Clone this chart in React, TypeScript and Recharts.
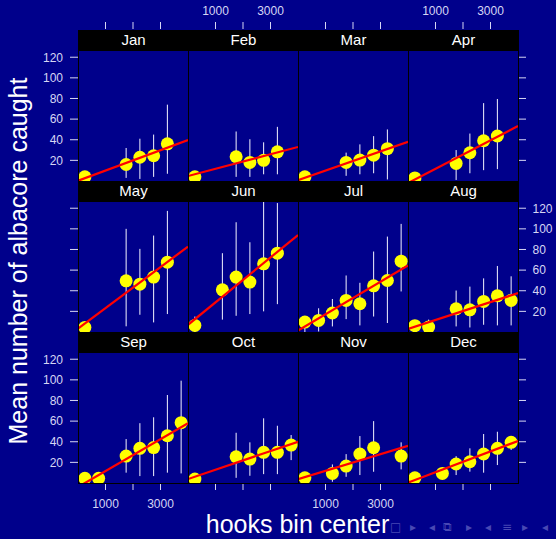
import React from 'react';
import { ComposedChart, ErrorBar, Scatter, XAxis, YAxis } from 'recharts';

// hook bin centres shared by every month
const bins = [250, 750, 1250, 1750, 2250, 2750, 3250, 3750];
const months = ['Jan', 'Feb', 'Mar', 'Apr', 'May', 'Jun', 'Jul', 'Aug', 'Sep', 'Oct', 'Nov', 'Dec'];

// mean catch per bin, and the low / high end of each bar (null = nothing drawn)
const meanJan = [4, null, null, 16, 23, 24.5, 36, null];
const loJan = [null, null, null, 3, 2, 4, 7, null];
const hiJan = [null, null, null, 32, 41, 45, 74, null];

const meanFeb = [4, null, null, 23.5, 18, 20, 28.3, null];
const loFeb = [null, null, null, 4, 4, 6.5, 6.5, null];
const hiFeb = [null, null, null, 48, 40.5, 37.5, 52.5, null];

const meanMar = [4, null, null, 18, 20.3, 25, 31.3, null];
const loMar = [null, null, null, 5, 6.5, 7.5, 1.5, null];
const hiMar = [null, null, null, 27.5, 35.5, 43.5, 50, null];

const meanApr = [3, null, null, 17, 27.4, 39, 43.6, null];
const loApr = [null, null, null, 1, 7.5, 10.5, 11.5, null];
const hiApr = [null, null, null, 30, 46, 75.5, 79.5, null];

const meanMay = [4.4, null, null, 49.6, 46.4, 53.2, 67.7, null];
const loMay = [null, null, null, 5.5, 16.7, 9.3, 17.4, null];
const hiMay = [null, null, null, 100, 80.6, 93.5, 117.4, null];

const meanJun = [6.4, null, 40.9, 53.2, 48.4, 66.1, 76.4, null];
const loJun = [0, null, 12, 15.7, 17.4, 20, 27, null];
const hiJun = [15, null, 76.4, 106.4, 87, 130, 125, null];

const meanJul = [9.6, 11.2, 18.4, 30.6, 27.4, 44.8, 49.9, 68.7];
const loJul = [0, 0.5, 5.4, 12.5, 6.4, 15, 8.7, 39.3];
const hiJul = [15, 23, 32, 54.8, 47.7, 78, 92.5, 104.8];

const meanAug = [6.1, 4.8, null, 22.5, 21.5, 29.6, 35.1, 30.6];
const loAug = [null, 0, null, 5.4, 4.4, 7, 6.4, 6.4];
const hiAug = [null, 12, null, 40.2, 44, 52, 64, 54];

const meanSep = [4.5, 4.5, null, 26.1, 33.6, 34.3, 45.8, 58.5];
const loSep = [null, null, null, 10, 6.7, 6.7, 10, 9.3];
const hiSep = [null, null, null, 42.6, 58, 63.7, 85.3, 99.2];

const meanOct = [3.8, null, null, 25.4, 23.2, 29.7, 29.7, 36.8];
const loOct = [null, null, null, 5, 7, 8.6, 8.6, 22.2];
const hiOct = [null, null, null, 48.7, 39.4, 62.7, 55.5, 46.5];

const meanNov = [5, null, 9.3, 16.4, 28.1, 34.2, null, 26.1];
const loNov = [null, null, 1.2, 6, 7.7, 10.9, null, 13.2];
const hiNov = [null, null, 18, 28, 45.5, 60, null, 39.4];

const meanDec = [5, null, 9.3, 18.4, 20.6, 28.1, 33.6, 39.4];
const loDec = [null, null, null, 7.7, 11, 10, 17.4, 32];
const hiDec = [null, null, null, 26, 33.6, 47.5, 49.7, 45.5];

// fitted line, value at the left (0) and right (4000) edge of each panel
const lineX = [0, 4000];
const lineLeft = [0.2, 4.8, 0.8, -2, 3.2, 7, 1.5, 2.9, -3.9, 3.8, 3.8, 0.4];
const lineRight = [39.7, 33, 38, 53.3, 82.8, 94, 64.5, 37.7, 57.9, 40, 36, 40.7];

const xTicks = [1000, 2000, 3000];
const yTicks = [20, 40, 60, 80, 100, 120];

const means = [meanJan, meanFeb, meanMar, meanApr, meanMay, meanJun, meanJul, meanAug, meanSep, meanOct, meanNov, meanDec];
const lows = [loJan, loFeb, loMar, loApr, loMay, loJun, loJul, loAug, loSep, loOct, loNov, loDec];
const highs = [hiJan, hiFeb, hiMar, hiApr, hiMay, hiJun, hiJul, hiAug, hiSep, hiOct, hiNov, hiDec];

const BG = '#00008b';
const TICK = '#d6d6f4';
const FONT = '"Liberation Sans", Arial, Helvetica, sans-serif';

const colLeft = [78, 188, 298, 408];
const rowTop = [50, 201, 352];
const PW = 110;
const PH = 131;
const STRIP = 20;

function Dot(props: any) {
  if (props.cx == null || props.cy == null) return <g />;
  return <circle cx={props.cx} cy={props.cy} r={6.5} fill="#ffff00" />;
}

function Panel({ idx }: { idx: number }) {
  const row = Math.floor(idx / 4);
  const col = idx % 4;

  const data = bins
    .map((x, k) => {
      const m = means[idx][k];
      if (m == null) return null;
      const lo = lows[idx][k];
      const hi = highs[idx][k];
      return { x, y: m, err: lo == null || hi == null ? [0, 0] : [m - lo, hi - m] };
    })
    .filter(Boolean) as { x: number; y: number; err: number[] }[];
  const fit = lineX.map((x, k) => ({ x, y: k === 0 ? lineLeft[idx] : lineRight[idx] }));

  const showLeft = col === 0;
  const showRight = col === 3;
  const padL = showLeft ? 50 : 0;
  const padR = showRight ? 40 : 0;
  const padT = row === 0 ? 50 : 0;
  const padB = row === 2 ? 30 : 0;
  const xLabels = row === 0 ? col % 2 === 1 : col % 2 === 0;
  const yLabels = row === 1 ? showRight : showLeft;

  const xTick = (p: any) => {
    const v = p.payload.value;
    const label = xLabels && v !== 2000;
    if (row === 0) {
      return (
        <g>
          <line x1={p.x} x2={p.x} y1={p.y - 28} y2={p.y - 21} stroke={TICK} />
          {label && <text x={p.x} y={p.y - 35} textAnchor="middle" fill={TICK} fontSize={12} fontFamily={FONT}>{v}</text>}
        </g>
      );
    }
    return (
      <g>
        <line x1={p.x} x2={p.x} y1={p.y} y2={p.y + 7} stroke={TICK} />
        {label && <text x={p.x} y={p.y + 25} textAnchor="middle" fill={TICK} fontSize={12} fontFamily={FONT}>{v}</text>}
      </g>
    );
  };

  const yTick = (p: any) => {
    const v = p.payload.value;
    if (showLeft) {
      return (
        <g>
          <line x1={p.x - 8} x2={p.x} y1={p.y} y2={p.y} stroke={TICK} />
          {yLabels && <text x={p.x - 15} y={p.y + 4.3} textAnchor="end" fill={TICK} fontSize={12} fontFamily={FONT}>{v}</text>}
        </g>
      );
    }
    return (
      <g>
        <line x1={p.x} x2={p.x + 8} y1={p.y} y2={p.y} stroke={TICK} />
        {yLabels && <text x={p.x + 14.5} y={p.y + 4.3} textAnchor="start" fill={TICK} fontSize={12} fontFamily={FONT}>{v}</text>}
      </g>
    );
  };

  return (
    <>
      <div style={{ position: 'absolute', left: colLeft[col] - padL, top: rowTop[row] - padT }}>
        <ComposedChart
          width={PW + padL + padR}
          height={PH + padT + padB}
          margin={{ top: 0, right: 0, bottom: 0, left: 0 }}
        >
          <XAxis
            type="number"
            dataKey="x"
            domain={[0, 4000]}
            ticks={xTicks}
            interval={0}
            allowDataOverflow
            hide={row === 1}
            orientation={row === 0 ? 'top' : 'bottom'}
            height={row === 0 ? 50 : 30}
            axisLine={false}
            tickLine={false}
            tickSize={0}
            tickMargin={0}
            tick={xTick}
          />
          <YAxis
            type="number"
            dataKey="y"
            domain={[0, 127]}
            ticks={yTicks}
            interval={0}
            allowDataOverflow
            hide={!(showLeft || showRight)}
            orientation={showRight ? 'right' : 'left'}
            width={showRight ? 40 : 50}
            axisLine={false}
            tickLine={false}
            tickSize={0}
            tickMargin={0}
            tick={yTick}
          />
          <Scatter data={data} dataKey="y" shape={Dot} isAnimationActive={false}>
            <ErrorBar dataKey="err" direction="y" width={0} stroke="#f4f4ff" strokeWidth={1} />
          </Scatter>
          <Scatter
            data={fit}
            dataKey="y"
            line={{ stroke: '#ff0000', strokeWidth: 2.2 }}
            lineType="joint"
            shape={() => <g />}
            isAnimationActive={false}
          />
        </ComposedChart>
      </div>
      <div
        style={{
          position: 'absolute',
          left: colLeft[col],
          top: rowTop[row],
          width: PW + 1,
          height: PH + 1,
          boxSizing: 'border-box',
          border: '1px solid #000',
          pointerEvents: 'none',
        }}
      />
      <div
        style={{
          position: 'absolute',
          left: colLeft[col],
          top: rowTop[row] - STRIP,
          width: PW + 1,
          height: STRIP,
          background: '#000',
          color: '#fff',
          fontSize: 15,
          lineHeight: `${STRIP}px`,
          textAlign: 'center',
          fontFamily: FONT,
        }}
      >
        {months[idx]}
      </div>
    </>
  );
}

export default function App() {
  return (
    <div
      style={{
        position: 'fixed',
        left: 0,
        top: 0,
        width: 556,
        height: 539,
        background: BG,
        overflow: 'hidden',
        fontFamily: FONT,
      }}
    >
      {months.map((m, i) => (
        <Panel key={m} idx={i} />
      ))}
      <svg width={556} height={539} style={{ position: 'absolute', left: 0, top: 0, pointerEvents: 'none' }}>
        <text x={27} y={261} transform="rotate(-90, 27, 261)" textAnchor="middle" fill="#fff" fontSize={25} fontFamily={FONT}>
          Mean number of albacore caught
        </text>
        <text x={297.5} y={533} textAnchor="middle" fill="#fff" fontSize={25} fontFamily={FONT}>
          hooks bin center
        </text>
        <g fill="#4848b4" fontSize={12} fontFamily='"DejaVu Sans", sans-serif'>
          <text x={390} y={531}>□</text>
          <text x={410} y={531}>▸</text>
          <text x={429} y={531}>◂</text>
          <text x={443} y={531}>⧉</text>
          <text x={466} y={531}>▸</text>
          <text x={485} y={531}>◂</text>
          <text x={502} y={531}>≡</text>
          <text x={522} y={531}>▸</text>
          <text x={542} y={531}>◂</text>
        </g>
      </svg>
    </div>
  );
}
